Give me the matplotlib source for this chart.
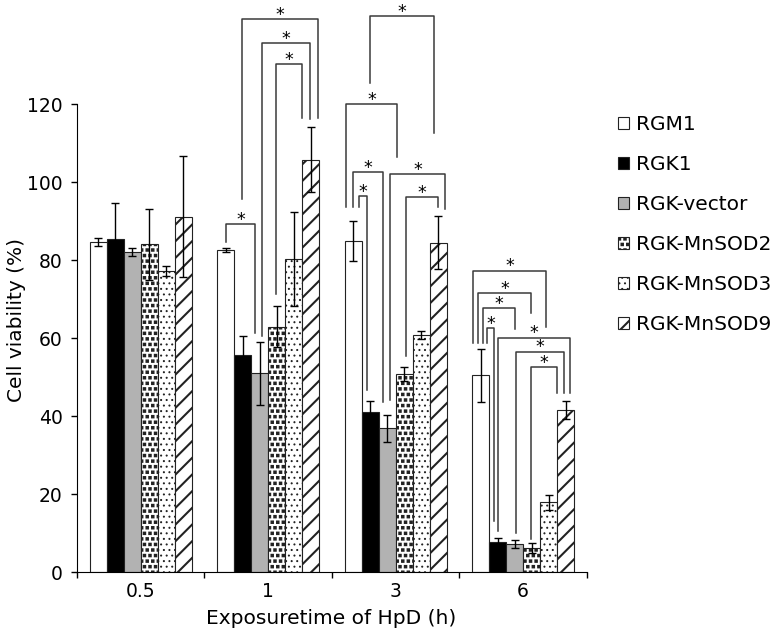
import numpy as np
import matplotlib
matplotlib.use('Agg')
import matplotlib.pyplot as plt
import matplotlib.hatch as mhatch
from matplotlib.path import Path


# square dots for the RGK-MnSOD2 fill ('*' hatch is replaced)
class SquareDots(mhatch.Shapes):
    size = 0.38
    filled = True

    def __init__(self, hatch, density):
        self.num_rows = hatch.count('*') * density
        path = Path.unit_rectangle()
        self.shape_vertices = path.vertices - 0.5
        self.shape_codes = path.codes
        super().__init__(hatch, density)


mhatch._hatch_types = [h for h in mhatch._hatch_types if h is not mhatch.Stars] + [SquareDots]

plt.rcParams['font.family'] = ['DejaVu Sans']
plt.rcParams['hatch.linewidth'] = 1.1

# data
times = ['0.5', '1', '3', '6']
names = ['RGM1', 'RGK1', 'RGK-vector', 'RGK-MnSOD2', 'RGK-MnSOD3', 'RGK-MnSOD9']
rgm1 = [84.6, 82.6, 84.8, 50.4]
rgk1 = [85.5, 55.6, 41.0, 7.8]
rgk_vector = [82.0, 50.9, 36.8, 7.2]
mnsod2 = [84.1, 62.9, 50.7, 6.1]
mnsod3 = [77.1, 80.3, 60.8, 17.9]
mnsod9 = [91.1, 105.7, 84.4, 41.6]

rgm1_err = [1.0, 0.5, 5.1, 6.9]
rgk1_err = [9.0, 4.9, 2.9, 1.0]
rgk_vector_err = [1.1, 8.0, 3.5, 1.0]
mnsod2_err = [9.1, 5.2, 1.8, 1.3]
mnsod3_err = [1.3, 12.0, 1.1, 1.9]
mnsod9_err = [15.5, 8.3, 6.8, 2.3]

# significance brackets: (time index, left leg, right leg, top, left end, right end)
# legs are given in bar-index units inside the group (0 = RGM1 ... 5 = RGK-MnSOD9)
brackets = [
    (1, 0.01, 1.74, 89.2, 84.7, 61.2),
    (1, 0.99, 5.42, 141.8, 95.6, 116.3),
    (1, 2.16, 4.97, 135.7, 60.5, 116.2),
    (1, 2.97, 4.52, 130.2, 71.2, 116.3),
    (2, 0.35, 0.84, 96.4, 93.7, 46.7),
    (2, 0.00, 1.78, 102.6, 93.7, 43.5),
    (2, -0.43, 2.61, 120.0, 93.7, 106.3),
    (2, 2.18, 5.41, 102.1, 44.0, 93.2),
    (2, 1.00, 4.76, 142.6, 125.3, 112.6),
    (2, 3.10, 5.02, 96.2, 55.4, 93.7),
    (3, 0.40, 0.78, 62.5, 58.6, 13.0),
    (3, 0.13, 2.01, 67.6, 58.6, 62.2),
    (3, -0.13, 2.97, 71.6, 58.6, 66.3),
    (3, -0.42, 3.84, 77.3, 58.6, 62.9),
    (3, 1.05, 5.28, 60.1, 10.5, 45.8),
    (3, 2.07, 4.89, 56.5, 10.0, 45.8),
    (3, 2.97, 4.50, 52.6, 8.5, 45.8),
]

values = [rgm1, rgk1, rgk_vector, mnsod2, mnsod3, mnsod9]
errors = [rgm1_err, rgk1_err, rgk_vector_err, mnsod2_err, mnsod3_err, mnsod9_err]
faces = ['white', 'black', '#b2b2b2', 'white', 'white', 'white']
hatches = [None, None, None, '***', '...', '//']
hatch_lw = [1, 1, 1, 1.0, 0.7, 1.5]

fig = plt.figure(figsize=(7.76, 6.30), dpi=100)
ax = fig.add_axes([76.75 / 776, 58 / 630, 510 / 776, 569.4 / 630])

x = np.arange(len(times))
w = 0.8 / 6
for k in range(6):
    bars = ax.bar(x + (k - 2.5) * w, values[k], w, color=faces[k], edgecolor='#222222',
                  linewidth=0.8, hatch=hatches[k], label=names[k], zorder=2)
    for p in bars:
        if hasattr(p, 'set_hatch_linewidth'):
            p.set_hatch_linewidth(hatch_lw[k])
    ax.errorbar(x + (k - 2.5) * w, values[k], yerr=errors[k], fmt='none',
                ecolor='black', elinewidth=1, capsize=2.6, capthick=1, zorder=3)

for g, a, b, top, ya, yb in brackets:
    xa = g + (a - 2.5) * w
    xb = g + (b - 2.5) * w
    ax.plot([xa, xa, xb, xb], [ya, top, top, yb], color='#3a3a3a', lw=1.1,
            zorder=4, clip_on=False)
    ax.text((xa + xb) / 2, top - 0.2, '*', ha='center', va='baseline',
            fontsize=12.5, zorder=5, clip_on=False)

ax.set_xlim(-0.5, 3.5)
ax.set_ylim(0, 146)
ax.set_yticks(range(0, 121, 20))
ax.spines['left'].set_bounds(0, 120)
ax.spines['top'].set_visible(False)
ax.spines['right'].set_visible(False)
ax.set_xticks(np.arange(-0.5, 3.6, 1))
ax.set_xticklabels([])
ax.set_xticks(x, minor=True)
ax.set_xticklabels(times, minor=True)
ax.tick_params(axis='x', which='major', length=4, width=1, direction='out')
ax.tick_params(axis='x', which='minor', length=0, pad=7, labelsize=13.5)
ax.tick_params(axis='y', length=4, width=1, pad=6, labelsize=13.5)

fig.text(0.0219, 0.492, 'Cell viability (%)', rotation=90, ha='center', va='center', fontsize=14.5)
fig.text(331.5 / 776, 1 - 618 / 630, 'Exposuretime of HpD (h)', ha='center', va='center', fontsize=14.5)

leg = ax.legend(loc='upper left', bbox_to_anchor=(618 / 776, 1 - 115 / 630),
                bbox_transform=fig.transFigure, frameon=False, fontsize=14.5,
                handlelength=0.55, handleheight=0.55, handletextpad=0.33,
                labelspacing=1.04, borderpad=0, borderaxespad=0)
for k, h in enumerate(leg.legend_handles):
    if hasattr(h, 'set_hatch_linewidth'):
        h.set_hatch_linewidth(hatch_lw[k])

plt.savefig('out.png', dpi=100)
